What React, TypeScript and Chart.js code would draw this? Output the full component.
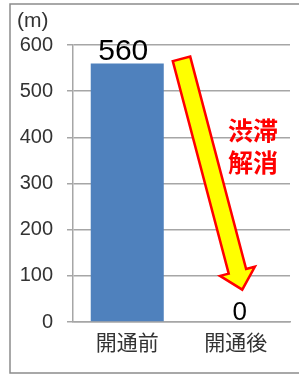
import React, { useEffect, useRef } from "react";
import { Chart, registerables } from "chart.js";

Chart.register(...registerables);

const categories = ["開通前", "開通後"];
const values = [560, 0];
const valueLabels = ["560", "0"];
const yTicks = [0, 100, 200, 300, 400, 500, 600];
const unitLabel = "(m)";
const calloutLines = ["渋滞", "解消"];
// arrow from (category index, value) to (category index, value)
const arrowFrom = { x: 0.5, y: 570 };
const arrowTo = { x: 1.06, y: 70 };
const calloutAt = { x: 1.158, y: 380 };

const FONT = "'Liberation Sans', 'Noto Sans CJK JP', sans-serif";

const decorPlugin = {
  id: "decor",
  beforeDraw(chart: any) {
    const ctx = chart.ctx;
    ctx.save();
    ctx.strokeStyle = "#8c8c8c";
    ctx.lineWidth = 1.5;
    ctx.beginPath();
    ctx.moveTo(299, 4);
    ctx.lineTo(10, 4);
    ctx.lineTo(10, 373);
    ctx.lineTo(299, 373);
    ctx.stroke();
    ctx.fillStyle = "#333333";
    ctx.font = `21px ${FONT}`;
    ctx.textAlign = "left";
    ctx.textBaseline = "middle";
    ctx.fillText(unitLabel, 17, 21);
    ctx.restore();
  },
  afterDraw(chart: any) {
    const ctx = chart.ctx;
    const xs = chart.scales.x;
    const ys = chart.scales.y;
    const meta = chart.getDatasetMeta(0);
    ctx.save();
    // value labels
    meta.data.forEach((bar: any, i: number) => {
      ctx.fillStyle = "#000000";
      ctx.font = i === 0 ? `30px ${FONT}` : `26px ${FONT}`;
      ctx.textAlign = "center";
      ctx.textBaseline = "alphabetic";
      ctx.fillText(valueLabels[i], bar.x + (i === 0 ? -4 : 4), bar.y - (i === 0 ? 3 : 2));
    });
    // arrow
    const x0 = xs.getPixelForValue(arrowFrom.x);
    const y0 = ys.getPixelForValue(arrowFrom.y);
    const x1 = xs.getPixelForValue(arrowTo.x);
    const y1 = ys.getPixelForValue(arrowTo.y);
    const dx = x1 - x0;
    const dy = y1 - y0;
    const len = Math.hypot(dx, dy);
    const ux = dx / len;
    const uy = dy / len;
    const px = uy;
    const py = -ux;
    const sw = 9;
    const hw = 18;
    const hl = 19;
    const bx = x1 - ux * hl;
    const by = y1 - uy * hl;
    const pts = [
      [x0 - px * sw, y0 - py * sw],
      [x0 + px * sw, y0 + py * sw],
      [bx + px * sw, by + py * sw],
      [bx + px * hw, by + py * hw],
      [x1, y1],
      [bx - px * hw, by - py * hw],
      [bx - px * sw, by - py * sw],
    ];
    ctx.beginPath();
    pts.forEach((p, i) => (i === 0 ? ctx.moveTo(p[0], p[1]) : ctx.lineTo(p[0], p[1])));
    ctx.closePath();
    ctx.fillStyle = "#ffff00";
    ctx.fill();
    ctx.strokeStyle = "#ff0000";
    ctx.lineWidth = 2.5;
    ctx.lineJoin = "miter";
    ctx.stroke();
    // callout text
    const cx = xs.getPixelForValue(calloutAt.x);
    const cy = ys.getPixelForValue(calloutAt.y);
    ctx.fillStyle = "#ff0000";
    ctx.font = `bold 25px 'Noto Sans CJK JP', sans-serif`;
    ctx.textAlign = "center";
    ctx.textBaseline = "middle";
    calloutLines.forEach((t, i) => {
      ctx.fillText(t, cx, cy + (i - 0.5) * 32);
    });
    ctx.restore();
  },
};

export default function App() {
  const ref = useRef<HTMLCanvasElement>(null);
  useEffect(() => {
    document.body.style.margin = "0";
    const chart = new Chart(ref.current as HTMLCanvasElement, {
      type: "bar",
      data: {
        labels: categories,
        datasets: [
          {
            data: values,
            backgroundColor: "#4F81BD",
            categoryPercentage: 1,
            barPercentage: 0.673,
          },
        ],
      },
      options: {
        responsive: false,
        animation: false,
        layout: { padding: { left: 0, top: 45, right: 9, bottom: 0 } },
        plugins: {
          legend: { display: false },
          tooltip: { enabled: false },
        },
        scales: {
          x: {
            grid: { display: false, drawTicks: false },
            border: { display: true, color: "#a6a6a6", width: 1.5 },
            ticks: {
              color: "#333333",
              font: { size: 21, family: FONT },
              padding: 10,
            },
            afterFit: (s: any) => {
              s.height = 53;
            },
          },
          y: {
            min: 0,
            max: 600,
            afterBuildTicks: (s: any) => {
              s.ticks = yTicks.map((v) => ({ value: v }));
            },
            grid: { color: "#a6a6a6", lineWidth: 1.5, tickLength: 6, drawTicks: true },
            border: { display: true, color: "#a6a6a6", width: 1.5 },
            ticks: {
              color: "#333333",
              font: { size: 20, family: FONT },
              padding: 14,
            },
            afterFit: (s: any) => {
              s.width = 73;
            },
          },
        },
      },
      plugins: [decorPlugin],
    });
    return () => chart.destroy();
  }, []);
  return <canvas ref={ref} width={299} height={375} style={{ display: "block" }} />;
}
